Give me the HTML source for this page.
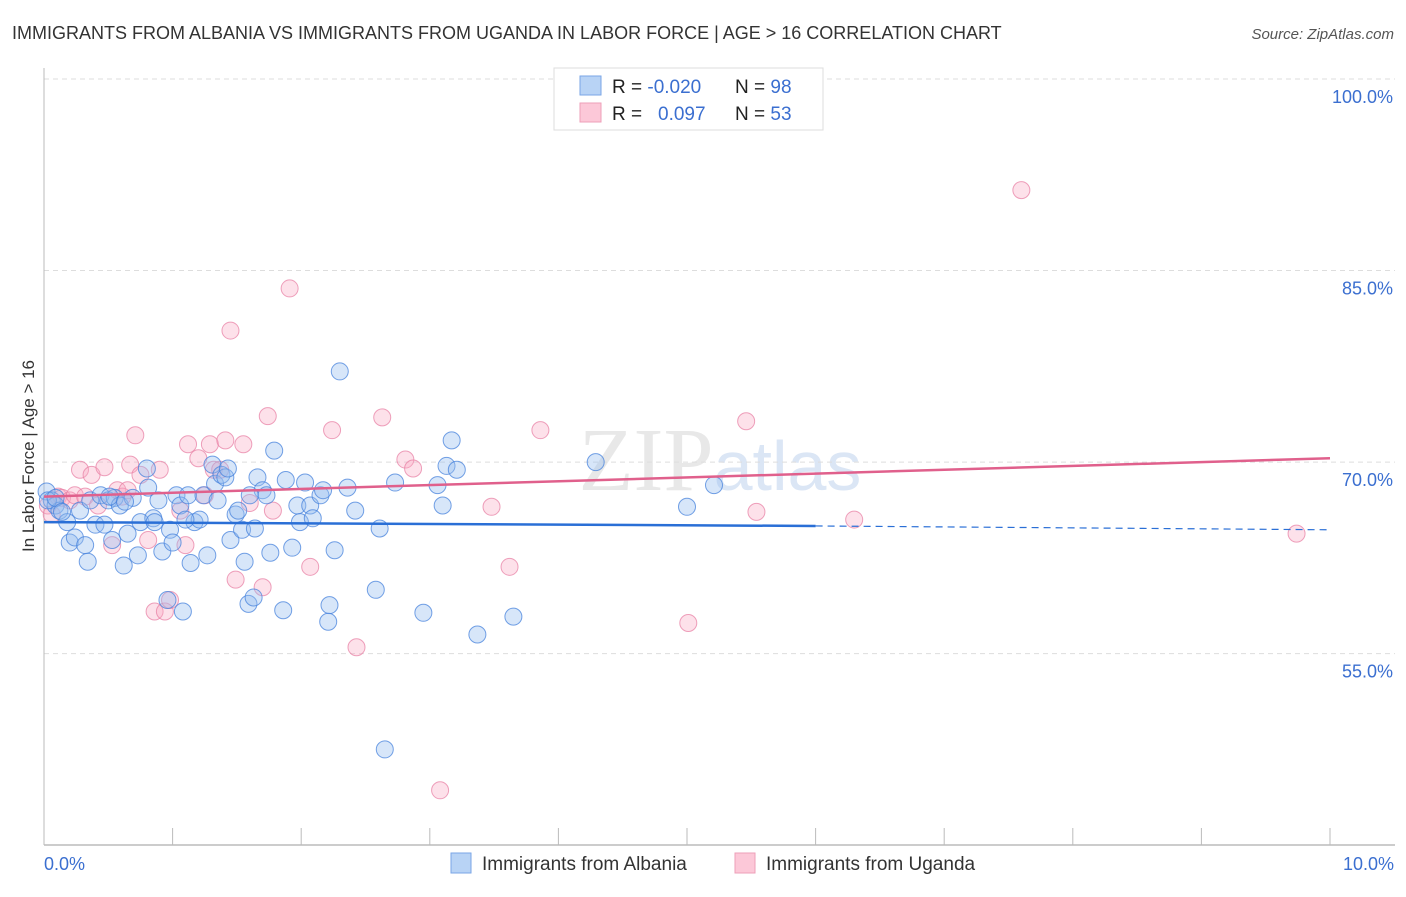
<!DOCTYPE html>
<html><head><meta charset="utf-8"><style>
body{margin:0;background:#fff;font-family:"Liberation Sans",sans-serif;}
</style></head><body>
<svg id="chart" width="1406" height="892" xmlns="http://www.w3.org/2000/svg" font-family="Liberation Sans, sans-serif">
<text x="12" y="39" font-size="18" fill="#333">IMMIGRANTS FROM ALBANIA VS IMMIGRANTS FROM UGANDA IN LABOR FORCE | AGE &gt; 16 CORRELATION CHART</text>
<text x="1394" y="39" font-size="15" fill="#555" text-anchor="end" font-style="italic">Source: ZipAtlas.com</text>
<text x="720" y="490" font-size="90" fill="#e8e8e8" text-anchor="middle" font-family="Liberation Serif, serif">ZIP<tspan fill="#dbe6f5" font-family="Liberation Sans, sans-serif" font-size="70">atlas</tspan></text>
<text transform="translate(34,456) rotate(-90)" font-size="17" fill="#333" text-anchor="middle">In Labor Force | Age &gt; 16</text>
<g id="grid"></g><g id="axes"></g><g id="marks"></g>
<g>
<rect x="554" y="68" width="269" height="62" fill="#fff" stroke="#ddd"/>
<rect x="580" y="76" width="21" height="19" fill="#b8d3f5" stroke="#7aa6e6"/>
<rect x="580" y="103" width="21" height="19" fill="#fcc8d8" stroke="#ee9fb8"/>
<text x="612" y="93" font-size="19" fill="#222">R = <tspan fill="#3b6fd0">-0.020</tspan><tspan x="735">N = </tspan><tspan fill="#3b6fd0">98</tspan></text>
<text x="612" y="120" font-size="19" fill="#222">R = <tspan x="658" fill="#3b6fd0">0.097</tspan><tspan x="735">N = </tspan><tspan fill="#3b6fd0">53</tspan></text>
</g>
<g>
<rect x="451" y="853" width="20" height="20" fill="#b8d3f5" stroke="#7aa6e6"/>
<text x="482" y="870" font-size="19" fill="#333">Immigrants from Albania</text>
<rect x="735" y="853" width="20" height="20" fill="#fcc8d8" stroke="#ee9fb8"/>
<text x="766" y="870" font-size="19" fill="#333">Immigrants from Uganda</text>
</g>
</svg>
<script>
const albaniaX=[0.02,0.06,0.09,0.12,0.18,0.20,0.24,0.28,0.32,0.34,0.36,0.40,0.44,0.47,0.50,0.53,0.55,0.59,0.62,0.65,0.69,0.73,0.75,0.80,0.81,0.85,0.86,0.89,0.92,0.96,0.98,1.00,1.03,1.06,1.08,1.12,1.14,1.17,1.21,1.24,1.27,1.31,1.33,1.35,1.38,1.41,1.43,1.45,1.49,1.51,1.54,1.56,1.59,1.63,1.64,1.66,1.70,1.73,1.76,1.79,1.86,1.88,1.93,1.97,1.99,2.03,2.07,2.09,2.15,2.17,2.22,2.21,2.26,2.30,2.36,2.42,2.58,2.61,2.65,2.73,2.95,3.06,3.10,3.13,3.17,3.21,3.37,3.65,4.29,5.00,5.21,0.03,0.09,0.14,0.51,0.63,1.10,1.60];
const albaniaY=[67.7,67.0,66.6,66.2,65.3,63.7,64.1,66.2,63.5,62.2,67.0,65.1,67.4,65.1,67.0,63.9,67.2,66.6,61.9,64.4,67.2,62.7,65.3,69.5,68.0,65.6,65.3,67.0,63.0,59.2,64.7,63.7,67.4,66.6,58.3,67.4,62.1,65.3,65.5,67.4,62.7,69.8,68.3,67.0,69.0,68.8,69.5,63.9,65.9,66.2,64.7,62.2,58.9,59.4,64.8,68.8,67.8,67.4,62.9,70.9,58.4,68.6,63.3,66.6,65.3,68.4,66.6,65.6,67.4,67.8,58.8,57.5,63.1,77.1,68.0,66.2,60.0,64.8,47.5,68.4,58.2,68.2,66.6,69.7,71.7,69.4,56.5,57.9,70.0,66.5,68.2,67.0,67.2,66.1,67.3,66.9,65.5,67.4];
const ugandaX=[0.03,0.06,0.11,0.14,0.20,0.24,0.28,0.32,0.37,0.42,0.47,0.53,0.57,0.61,0.65,0.67,0.71,0.75,0.81,0.86,0.90,0.94,0.98,1.06,1.10,1.12,1.20,1.25,1.29,1.32,1.37,1.41,1.45,1.49,1.55,1.60,1.70,1.74,1.78,1.91,2.07,2.24,2.43,2.63,2.81,2.87,3.08,3.48,3.62,3.86,5.01,5.46,5.54,6.30,7.60,9.74];
const ugandaY=[66.6,65.9,67.3,67.2,67.0,67.4,69.4,67.3,69.0,66.6,69.6,63.5,67.8,67.3,67.8,69.8,72.1,69.0,63.9,58.3,69.4,58.3,59.2,66.2,63.5,71.4,70.3,67.4,71.4,69.4,69.4,71.7,80.3,60.8,71.4,66.8,60.2,73.6,66.2,83.6,61.8,72.5,55.5,73.5,70.2,69.5,44.3,66.5,61.8,72.5,57.4,73.2,66.1,65.5,91.3,64.4];
const yTicks=[100,85,70,55];
const xTickLabels=["0.0%","10.0%"];
const blueTrend=[65.3,65.0,64.7]; // at x=0, 6, 10
const pinkTrend=[67.3,70.3]; // at x=0, 10
const NS="http://www.w3.org/2000/svg";
const X=v=>44+v*128.6, Y=v=>79+(100-v)*12.77;
function mk(tag,attrs,parent,text){const e=document.createElementNS(NS,tag);for(const k in attrs)e.setAttribute(k,attrs[k]);if(text!==undefined)e.textContent=text;document.getElementById(parent).appendChild(e);return e;}
yTicks.forEach(t=>{
 const l=mk('line',{x1:44,x2:1395,y1:Y(t),y2:Y(t),stroke:'#ddd','stroke-dasharray':'5,4'},'grid');
 
 
 const tx=mk('text',{x:1393,y:Y(t)+24,'font-size':18,fill:'#3b6fd0','text-anchor':'end'},'grid',t.toFixed(1)+'%');
 
 
});
const ya=mk('line',{x1:44,x2:44,y1:68,y2:845,stroke:'#bbb'},'axes');


const xa=mk('line',{x1:44,x2:1395,y1:845,y2:845,stroke:'#bbb','stroke-width':1.5},'axes');


for(let i=0;i<=10;i++){const t=mk('line',{x1:X(i),x2:X(i),y1:828,y2:845,stroke:'#bbb'},'axes');
 
 }
xTickLabels.forEach((s,i)=>{const t=mk('text',{x:i?1394:44,y:870,'font-size':18,fill:'#3b6fd0','text-anchor':i?'end':'start'},'axes',s);
 
 });
ugandaX.forEach((x,i)=>{const c=mk('circle',{cx:X(x),cy:Y(ugandaY[i]),r:8.5,fill:'rgba(248,170,195,0.35)',stroke:'rgba(232,130,165,0.75)','stroke-width':1},'marks');
 
 });
albaniaX.forEach((x,i)=>{const c=mk('circle',{cx:X(x),cy:Y(albaniaY[i]),r:8.5,fill:'rgba(150,190,240,0.38)',stroke:'rgba(70,130,220,0.75)','stroke-width':1},'marks');
 
 });
const b1=mk('line',{x1:X(0),y1:Y(blueTrend[0]),x2:X(6),y2:Y(blueTrend[1]),stroke:'#2a6fd6','stroke-width':2.5},'marks');


const b2=mk('line',{x1:X(6),y1:Y(blueTrend[1]),x2:X(10),y2:Y(blueTrend[2]),stroke:'#2a6fd6','stroke-width':1.2,'stroke-dasharray':'7,5'},'marks');


const p1=mk('line',{x1:X(0),y1:Y(pinkTrend[0]),x2:X(10),y2:Y(pinkTrend[1]),stroke:'#e0608c','stroke-width':2.5},'marks');


</script>
</body></html>
